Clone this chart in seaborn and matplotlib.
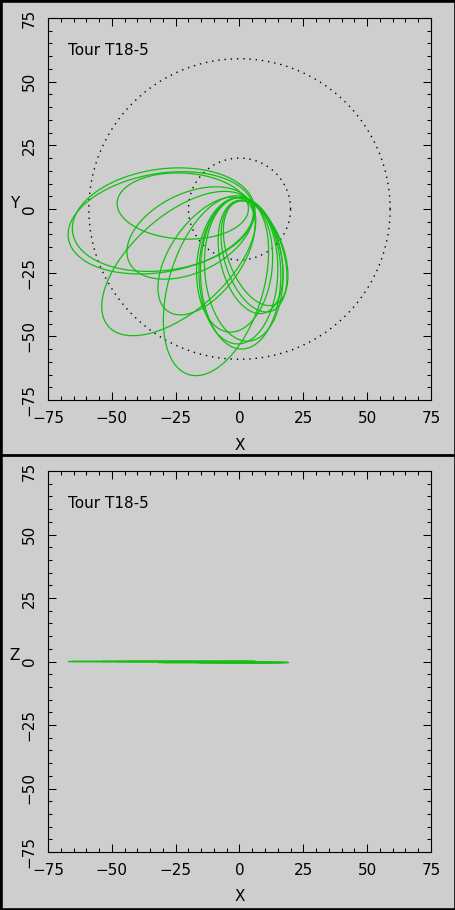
import numpy as np
import pandas as pd
import matplotlib.pyplot as plt
import seaborn as sns
from matplotlib.lines import Line2D
from matplotlib.patches import Rectangle

# orbit elements (Saturn at the origin, units of Rs)
orbit_names = ["o1", "o2", "o3", "o4", "o5", "o6", "o7", "o8",
               "o9", "o10", "o11", "o12", "o13", "o14"]
peri_r = [5.5, 6.0, 3.5, 5.0, 5.0, 5.0, 4.0, 4.5, 4.5, 4.5, 4.5, 3.4, 3.2, 3.0]
apo_r = [68, 66, 48, 69, 68, 48, 49, 48.5, 53, 55, 52, 42, 42, 40]
apo_deg = [190, 188, 177, 222, 253, 206, 235, 265, 269, 271, 274, 283, 287, 290]
orbit_z = [0.35, 0.3, 0.3, 0.1, 0.0, 0.1, 0.0, -0.2, -0.2, -0.2, -0.2, -0.25, -0.25, -0.25]

circle_r = [20, 59]

ticks_major = [-75, -50, -25, 0, 25, 50, 75]
ticks_minor = list(range(-75, 80, 5))
title_text = "Tour T18-5"

BG = "#cecece"
GREEN = "#12c012"


def orbit_frame():
    rows = []
    nu = np.linspace(0, 2 * np.pi, 721)
    for name, rp, ra, ad, z in zip(orbit_names, peri_r, apo_r, apo_deg, orbit_z):
        e = (ra - rp) / (ra + rp)
        p = 2 * rp * ra / (ra + rp)
        w = np.radians(ad - 180)
        r = p / (1 + e * np.cos(nu))
        rows.append(pd.DataFrame({"orbit": name,
                                  "x": r * np.cos(nu + w),
                                  "y": r * np.sin(nu + w),
                                  "z": z}))
    return pd.concat(rows, ignore_index=True)


def circle_frame():
    th = np.linspace(0, 2 * np.pi, 400)
    return pd.concat([pd.DataFrame({"ring": f"r{rad}", "x": rad * np.cos(th),
                                    "y": rad * np.sin(th)}) for rad in circle_r],
                     ignore_index=True)


def style_axes(ax, ylab):
    ax.set_facecolor(BG)
    ax.set_xlim(-75, 75)
    ax.set_ylim(-75, 75)
    ax.set_xticks(ticks_major)
    ax.set_yticks(ticks_major)
    ax.set_xticks(ticks_minor, minor=True)
    ax.set_yticks(ticks_minor, minor=True)
    for s in ax.spines.values():
        s.set_visible(True)
        s.set_color("black")
        s.set_linewidth(0.8)
    ax.tick_params(which="both", direction="in", top=True, right=True,
                   color="black", width=0.75, labelsize=11, labelcolor="black")
    ax.tick_params(which="major", length=5.8)
    ax.tick_params(which="minor", length=3.0)
    ax.tick_params(axis="x", pad=8)
    ax.tick_params(axis="y", pad=8, labelrotation=90)
    for lab in ax.get_yticklabels():
        lab.set_va("center")
    ax.set_xlabel("")
    ax.set_ylabel("")
    ax.text(0.5, -0.118, "X", transform=ax.transAxes, ha="center", va="center",
            fontsize=11, color="black")
    ax.text(-0.086, 0.515, ylab, transform=ax.transAxes, ha="center", va="center",
            fontsize=11, color="black")
    ax.text(0.052, 0.914, title_text, transform=ax.transAxes, ha="left", va="center",
            fontsize=11, color="black")


def main():
    sns.set_style("ticks")
    plt.rcParams["font.family"] = ["DejaVu Sans"]
    plt.rcParams["text.color"] = "black"

    df = orbit_frame()
    rings = circle_frame()

    fig = plt.figure(figsize=(4.56, 9.10), dpi=100, facecolor=BG)
    ax1 = fig.add_axes([48 / 456, 1 - 400 / 910, 383 / 456, 382 / 910])
    ax2 = fig.add_axes([48 / 456, 1 - 852 / 910, 383 / 456, 381 / 910])

    # X-Y view
    sns.lineplot(data=rings, x="x", y="y", units="ring", estimator=None, sort=False,
                 color="black", lw=1.0, linestyle=(0, (1, 3.5)), ax=ax1)
    sns.lineplot(data=df, x="x", y="y", units="orbit", estimator=None, sort=False,
                 color=GREEN, lw=0.9, ax=ax1)
    style_axes(ax1, "Y")

    # X-Z view
    sns.lineplot(data=df, x="x", y="z", units="orbit", estimator=None, sort=False,
                 color=GREEN, lw=0.9, ax=ax2)
    style_axes(ax2, "Z")

    fig.patches.append(Rectangle((0, 0), 1, 1, transform=fig.transFigure, fill=False,
                                 edgecolor="black", lw=3.3))
    fig.lines.append(Line2D([0, 1], [0.5, 0.5], transform=fig.transFigure,
                            color="black", lw=2.0))

    fig.savefig("out.png", dpi=100, facecolor=BG)


if __name__ == "__main__":
    main()
